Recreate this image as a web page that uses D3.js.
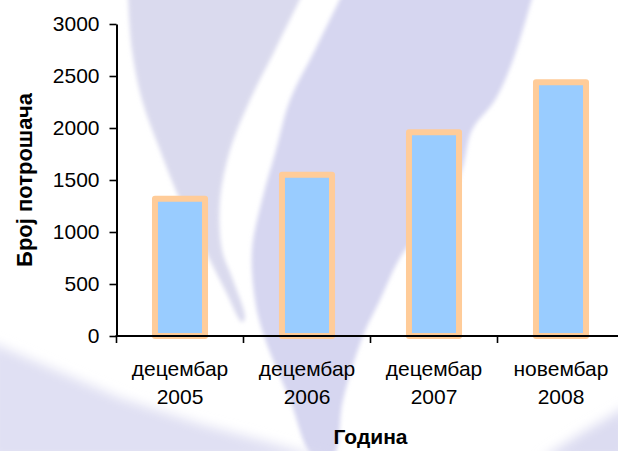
<!DOCTYPE html>
<html>
<head>
<meta charset="utf-8">
<script src="https://cdn.jsdelivr.net/npm/d3@7/dist/d3.min.js"></script>
<style>
  html, body { margin: 0; padding: 0; background: #ffffff; }
  svg { display: block; }
  text { font-family: "Liberation Sans", Arial, sans-serif; fill: #000; }
</style>
</head>
<body>
<svg id="chart" width="618" height="451"></svg>
<script>
// ---- data ----
const categories = ["dec2005", "dec2006", "dec2007", "nov2008"];
const monthLabels = ["децембар", "децембар", "децембар", "новембар"];
const yearLabels = ["2005", "2006", "2007", "2008"];
const values = [1320, 1550, 1960, 2440];
const yTicks = [0, 500, 1000, 1500, 2000, 2500, 3000];
const yTitle = "Број потрошача";
const xTitle = "Година";

// ---- layout ----
const W = 618, H = 451;
const plot = { left: 116.5, right: 624.5, top: 24, bottom: 336 };

const svg = d3.select("#chart");

// ---- decorative watermark background ----
const defs = svg.append("defs");
defs.append("filter").attr("id", "soft")
  .attr("x", "-10%").attr("y", "-10%").attr("width", "120%").attr("height", "120%")
  .append("feGaussianBlur").attr("stdDeviation", 2.2);
defs.append("filter").attr("id", "softer")
  .attr("x", "-20%").attr("y", "-20%").attr("width", "140%").attr("height", "140%")
  .append("feGaussianBlur").attr("stdDeviation", 6);

const line = d3.line().curve(d3.curveCatmullRom.alpha(0.5));
const bg = svg.append("g").attr("filter", "url(#soft)");
const shapeA = [[128,-5],[132,50],[142,100],[160,150],[180,200],[205,250],[225,290],[242,322],
                [245,318],[233,280],[222,250],[220,200],[230,150],[250,100],[275,50],[302,-5]];
const shapeB = [[342,-5],[315,50],[290,100],[276,150],[262,200],[252,250],[255,300],[264,336],[290,400],[313,456],
                [333,456],[343,400],[363,336],[380,300],[405,250],[445,210],[462,170],[472,130],[495,100],[513,60],[533,-5]];
const shapeC = [[-10,342],[60,372],[120,398],[200,424],[260,440],[330,460],[-10,460]];
const shapeD = [[540,460],[580,434],[628,406],[628,460]];
bg.append("path").attr("d", line(shapeA) + "Z").attr("fill", "#dadaee");
bg.append("path").attr("d", line(shapeB) + "Z").attr("fill", "#d6d6f0");
svg.append("path").attr("d", d3.line()(shapeC) + "Z").attr("fill", "#e0e0f3").attr("filter", "url(#softer)");
svg.append("path").attr("d", d3.line()(shapeD) + "Z").attr("fill", "#dcdcf1").attr("filter", "url(#softer)");

// ---- scales ----
const x = d3.scaleBand().domain(categories).range([plot.left, plot.right]).padding(0);
const y = d3.scaleLinear().domain([0, 3000]).range([plot.bottom, plot.top]);

// ---- bars ----
const barW = x.bandwidth() * 0.394;
svg.append("g").selectAll("rect").data(values).join("rect")
  .attr("x", (d, i) => x(categories[i]) + x.bandwidth() / 2 - barW / 2)
  .attr("y", d => y(d))
  .attr("width", barW)
  .attr("height", d => y(0) - y(d))
  .attr("fill", "#99ccff")
  .attr("stroke", "#ffcc99")
  .attr("stroke-width", 6)
  .attr("stroke-linejoin", "round");

// ---- y axis ----
const yAxis = d3.axisLeft(y).tickValues(yTicks).tickFormat(d3.format("d"))
  .tickSize(7).tickPadding(10).tickSizeOuter(0);
const gy = svg.append("g").attr("transform", `translate(${plot.left},0)`).call(yAxis);
gy.select(".domain").attr("stroke", "#000").attr("stroke-width", 2);
gy.selectAll(".tick line").attr("stroke", "#000").attr("stroke-width", 1.6);
gy.selectAll(".tick text").attr("font-size", 21).attr("font-family", "Liberation Sans, Arial, sans-serif").attr("fill", "#000");

// ---- x axis (ticks at category boundaries) ----
const gx = svg.append("g");
gx.append("line")
  .attr("x1", plot.left - 1).attr("x2", plot.right)
  .attr("y1", y(0)).attr("y2", y(0))
  .attr("stroke", "#000").attr("stroke-width", 2);
gx.selectAll("line.tk").data(categories).join("line").attr("class", "tk")
  .attr("x1", d => x(d)).attr("x2", d => x(d))
  .attr("y1", y(0)).attr("y2", y(0) + 7)
  .attr("stroke", "#000").attr("stroke-width", 1.6);
const lbl = gx.selectAll("text.cat").data(categories).join("text").attr("class", "cat")
  .attr("text-anchor", "middle").attr("font-size", 21);
lbl.append("tspan")
  .attr("x", d => x(d) + x.bandwidth() / 2).attr("y", y(0) + 40)
  .text((d, i) => monthLabels[i]);
lbl.append("tspan")
  .attr("x", d => x(d) + x.bandwidth() / 2).attr("y", y(0) + 68)
  .text((d, i) => yearLabels[i]);

// ---- titles ----
svg.append("text")
  .attr("transform", `translate(32,${(plot.top + plot.bottom) / 2}) rotate(-90)`)
  .attr("text-anchor", "middle").attr("font-weight", "bold").attr("font-size", 22)
  .text(yTitle);
svg.append("text")
  .attr("x", (plot.left + plot.right) / 2).attr("y", 444)
  .attr("text-anchor", "middle").attr("font-weight", "bold").attr("font-size", 21)
  .text(xTitle);
</script>
</body>
</html>
